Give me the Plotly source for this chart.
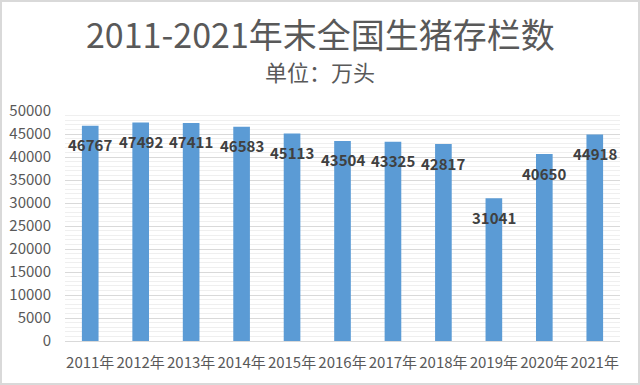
import plotly.graph_objects as go

years = ["2011年", "2012年", "2013年", "2014年", "2015年", "2016年",
         "2017年", "2018年", "2019年", "2020年", "2021年"]
values = [46767, 47492, 47411, 46583, 45113, 43504, 43325, 42817, 31041, 40650, 44918]
y_ticks = [0, 5000, 10000, 15000, 20000, 25000, 30000, 35000, 40000, 45000, 50000]

FONT = "Noto Sans CJK SC"
W, H = 640, 385
ML, MR, MT, MB = 65, 20, 111, 44
pw = W - ML - MR
ph = H - MT - MB
# shift from plot-area centre to page centre
cx_shift = W / 2 - (ML + pw / 2)

fig = go.Figure()
fig.add_trace(go.Bar(
    x=years, y=values,
    marker=dict(color="#5B9BD5", line=dict(width=0)),
    hoverinfo="x+y",
))

for yr, v in zip(years, values):
    fig.add_annotation(
        x=yr, y=v, yshift=-19, text=str(v), showarrow=False,
        font=dict(family=FONT, size=15, color="#404040", weight="bold"),
        xanchor="center", yanchor="middle",
    )

fig.add_annotation(
    xref="paper", yref="paper", x=0.5, y=1, xshift=cx_shift, yshift=78,
    xanchor="center", yanchor="middle",
    text="2011-2021年末全国生猪存栏数", showarrow=False,
    font=dict(family=FONT, size=34, color="#595959"),
)
fig.add_annotation(
    xref="paper", yref="paper", x=0.5, y=1, xshift=cx_shift, yshift=40,
    xanchor="center", yanchor="middle",
    text="单位：万头", showarrow=False,
    font=dict(family=FONT, size=22, color="#595959"),
)

fig.add_shape(
    type="rect", xref="paper", yref="paper",
    x0=(1 - ML) / pw, x1=1 + (MR - 1) / pw,
    y0=-(MB - 1) / ph, y1=1 + (MT - 1) / ph,
    line=dict(color="#d9d9d9", width=2), fillcolor="rgba(0,0,0,0)", layer="below",
)

fig.update_layout(
    width=W, height=H,
    margin=dict(l=ML, r=MR, t=MT, b=MB, pad=0, autoexpand=False),
    paper_bgcolor="white", plot_bgcolor="white",
    bargap=0.67,
    showlegend=False,
    font=dict(family=FONT, color="#595959"),
    xaxis=dict(
        type="category", showgrid=False, showline=False,
        ticks="outside", ticklen=8, tickcolor="rgba(0,0,0,0)",
        tickangle=0, automargin=False,
        tickfont=dict(family=FONT, size=15, color="#595959"),
    ),
    yaxis=dict(
        range=[0, 50000], tickvals=y_ticks, ticktext=[str(t) for t in y_ticks],
        showgrid=True, gridcolor="#d9d9d9", gridwidth=1,
        zeroline=True, zerolinecolor="#d9d9d9", zerolinewidth=1,
        showline=False, ticks="outside", ticklen=10, tickcolor="rgba(0,0,0,0)",
        automargin=False,
        tickfont=dict(family=FONT, size=15, color="#595959"),
        minor=dict(dtick=1000, showgrid=True, gridcolor="#efefef", gridwidth=1),
    ),
)

fig.write_html("out.html", config={"displayModeBar": False},
               post_script="document.body.style.margin='0';")
